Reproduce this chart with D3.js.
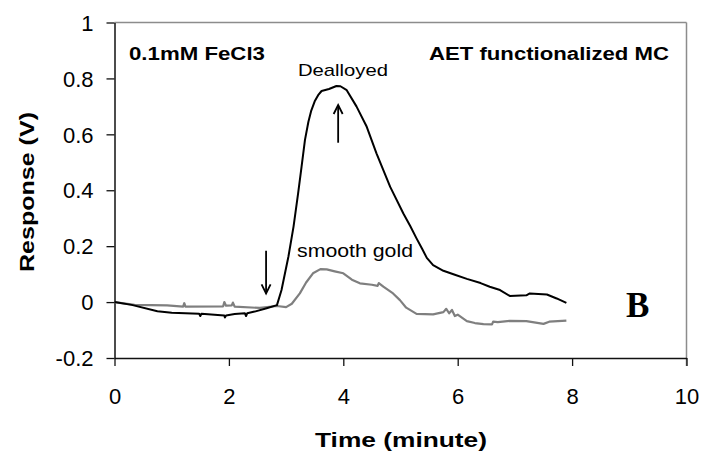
<!DOCTYPE html>
<html>
<head>
<meta charset="utf-8">
<script src="https://cdn.jsdelivr.net/npm/d3@7"></script>
<style>
  html, body { margin: 0; padding: 0; background: #fff; }
  svg { display: block; font-family: Arial, "Liberation Sans", sans-serif; }
</style>
</head>
<body>
<svg id="chart" width="705" height="457"></svg>
<script>
// Sensor response of AET-functionalized microcantilevers to 0.1 mM FeCl3
const dealloyedTime = [0, 0.3, 0.75, 1.0, 1.48, 1.5, 1.52, 1.92, 1.93, 1.95, 2.1, 2.28, 2.3, 2.32, 2.45, 2.66, 2.84, 2.92, 3.04, 3.13, 3.21, 3.27, 3.33, 3.39, 3.44, 3.5, 3.56, 3.62, 3.75, 3.88, 3.95, 4.06, 4.23, 4.41, 4.58, 4.82, 5.05, 5.17, 5.28, 5.38, 5.46, 5.57, 5.75, 5.95, 6.16, 6.4, 6.56, 6.74, 6.91, 7.2, 7.26, 7.56, 7.73, 7.9];
const dealloyedValue = [0, -0.01, -0.033, -0.038, -0.042, -0.05, -0.042, -0.048, -0.055, -0.048, -0.043, -0.04, -0.05, -0.04, -0.034, -0.022, -0.011, 0.043, 0.162, 0.27, 0.389, 0.484, 0.58, 0.645, 0.685, 0.718, 0.74, 0.755, 0.762, 0.773, 0.772, 0.758, 0.70, 0.627, 0.532, 0.412, 0.317, 0.272, 0.228, 0.19, 0.158, 0.132, 0.112, 0.098, 0.083, 0.068, 0.055, 0.043, 0.022, 0.024, 0.031, 0.027, 0.013, -0.003];

const smoothTime = [0, 0.35, 0.92, 1.2, 1.22, 1.24, 1.9, 1.92, 1.95, 2.05, 2.07, 2.1, 2.54, 2.84, 3.0, 3.1, 3.24, 3.35, 3.47, 3.6, 3.71, 3.85, 4.0, 4.15, 4.29, 4.5, 4.6, 4.62, 4.7, 4.87, 4.99, 5.1, 5.28, 5.57, 5.75, 5.8, 5.85, 5.9, 5.95, 6.0, 6.16, 6.3, 6.45, 6.6, 6.62, 6.7, 6.91, 7.2, 7.5, 7.6, 7.9];
const smoothValue = [0, -0.01, -0.012, -0.016, -0.004, -0.016, -0.015, 0.0, -0.013, -0.012, -0.002, -0.016, -0.021, -0.014, -0.018, -0.006, 0.031, 0.07, 0.103, 0.118, 0.117, 0.11, 0.103, 0.08, 0.067, 0.062, 0.058, 0.068, 0.055, 0.031, 0.007, -0.02, -0.042, -0.044, -0.036, -0.024, -0.04, -0.028, -0.05, -0.045, -0.068, -0.075, -0.079, -0.08, -0.07, -0.072, -0.067, -0.068, -0.078, -0.07, -0.066];

const xTicks = [0, 2, 4, 6, 8, 10];
const xTickLabels = ["0", "2", "4", "6", "8", "10"];
const yTicks = [-0.2, 0, 0.2, 0.4, 0.6, 0.8, 1];
const yTickLabels = ["-0.2", "0", "0.2", "0.4", "0.6", "0.8", "1"];

// Arrows marking injection (down) and the dealloyed peak (up): [time, from, to]
const arrowTime = [2.65, 3.91];
const arrowFrom = [0.184, 0.57];
const arrowTo = [0.031, 0.705];

const svg = d3.select("#chart");
const margin = { left: 114.5, top: 22.5, right: 686.5, bottom: 358 };

const x = d3.scaleLinear().domain([0, 10]).range([margin.left, margin.right]);
const y = d3.scaleLinear().domain([-0.2, 1]).range([margin.bottom, margin.top]);

// frame: top and right borders in grey
svg.append("line")
  .attr("x1", x(0)).attr("x2", x(10)).attr("y1", y(1)).attr("y2", y(1))
  .attr("stroke", "#8c8c8c").attr("stroke-width", 1.5);
svg.append("line")
  .attr("x1", x(10)).attr("x2", x(10)).attr("y1", y(1)).attr("y2", y(-0.2) + 8)
  .attr("stroke", "#8c8c8c").attr("stroke-width", 1.5);

// axes
const xAxis = d3.axisBottom(x)
  .tickValues(xTicks)
  .tickFormat((d, i) => xTickLabels[i])
  .tickSizeInner(8).tickSizeOuter(0).tickPadding(22);
const gx = svg.append("g").attr("transform", `translate(0,${y(-0.2)})`).call(xAxis);

const yAxis = d3.axisLeft(y)
  .tickValues(yTicks)
  .tickFormat((d, i) => yTickLabels[i])
  .tickSizeInner(8).tickSizeOuter(0).tickPadding(13);
const gy = svg.append("g").attr("transform", `translate(${x(0)},0)`).call(yAxis);

[gx, gy].forEach(g => {
  g.select(".domain").attr("stroke", "#111").attr("stroke-width", 1.5);
  g.selectAll(".tick line").attr("stroke", "#111").attr("stroke-width", 1.3);
  g.selectAll(".tick text")
    .attr("fill", "#000")
    .style("font-family", "Arial, 'Liberation Sans', sans-serif")
    .style("font-size", "22px");
});
gy.selectAll(".tick text").attr("dy", "0.35em");

// series
const line = d3.line().x(d => x(d[0])).y(d => y(d[1]));
const smoothPts = smoothTime.map((t, i) => [t, smoothValue[i]]);
const dealloyedPts = dealloyedTime.map((t, i) => [t, dealloyedValue[i]]);

svg.append("path").datum(smoothPts)
  .attr("d", line).attr("fill", "none")
  .attr("stroke", "#7f7f7f").attr("stroke-width", 2.2)
  .attr("stroke-linejoin", "round");
svg.append("path").datum(dealloyedPts)
  .attr("d", line).attr("fill", "none")
  .attr("stroke", "#000").attr("stroke-width", 2)
  .attr("stroke-linejoin", "round");

// arrows
arrowTime.forEach((t, i) => {
  const xa = x(t), y0 = y(arrowFrom[i]), y1 = y(arrowTo[i]);
  const dir = y1 > y0 ? -1 : 1;
  svg.append("line")
    .attr("x1", xa).attr("x2", xa).attr("y1", y0).attr("y2", y1)
    .attr("stroke", "#000").attr("stroke-width", 1.8);
  svg.append("path")
    .attr("d", `M${xa - 4.5},${y1 + dir * 9}L${xa},${y1}L${xa + 4.5},${y1 + dir * 9}`)
    .attr("fill", "none").attr("stroke", "#000").attr("stroke-width", 1.8);
});

// annotation text
function label(txt, xPos, yPos, opts) {
  const t = svg.append("text")
    .attr("x", xPos).attr("y", yPos)
    .attr("fill", "#000")
    .style("font-family", opts.family || "Arial, 'Liberation Sans', sans-serif")
    .style("font-size", opts.size + "px")
    .style("font-weight", opts.bold ? "bold" : "normal")
    .attr("text-anchor", opts.anchor || "start")
    .text(txt);
  if (opts.len) t.attr("textLength", opts.len).attr("lengthAdjust", "spacingAndGlyphs");
  if (opts.rotate) t.attr("transform", `rotate(-90,${xPos},${yPos})`);
  return t;
}

label("0.1mM FeCl3", 129, 59.5, { size: 18, bold: true, len: 136 });
label("AET functionalized MC", 429, 59.5, { size: 18, bold: true, len: 240 });
label("Dealloyed", 298, 76, { size: 17, len: 90 });
label("smooth gold", 297, 257, { size: 18, len: 116 });
label("B", 626, 317, { size: 35, bold: true, family: "'Liberation Serif', 'Times New Roman', serif" });

label("Time (minute)", 401, 447, { size: 21, bold: true, anchor: "middle", len: 172 });
label("Response (V)", 33.5, 192, { size: 21, bold: true, anchor: "middle", len: 160, rotate: true });
</script>
</body>
</html>
